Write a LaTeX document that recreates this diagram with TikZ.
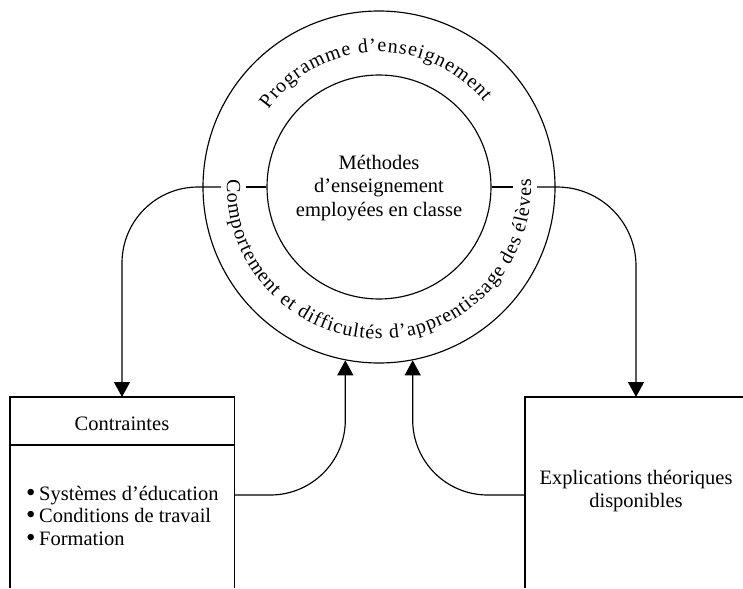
\documentclass[tikz,border=0pt]{standalone}
\usepackage{fontspec}
\setmainfont{Liberation Serif}
\usetikzlibrary{arrows.meta,decorations.text}
\newcommand{\bodyfont}{\fontsize{20.5}{23}\selectfont}
\newcommand{\ringfont}{\fontsize{20}{24}\selectfont}
\newcommand{\bul}{\makebox[13pt][l]{\raisebox{-1pt}{\fontsize{27}{23}\selectfont\textbullet}}}
\tikzset{
  ln/.style={line width=1.15pt, draw=black},
  conn/.style={ln, -{Triangle[width=16pt,length=15pt]}},
  ring/.style={circle, ln, inner sep=0pt},
  lbl/.style={font=\bodyfont, inner sep=0pt, align=center},
}
\begin{document}
\begin{tikzpicture}[x=1pt,y=1pt]
\useasboundingbox (0,-588) rectangle (743,0);
% circles
\node[ring, minimum size=352pt] (outer) at (379,-187) {};
\node[ring, minimum size=224pt] (inner) at (379,-187) {};
\node[lbl, font=\fontsize{20.5}{23.5}\selectfont] (meth) at (379,-188) {Méthodes\\d’enseignement\\employées en classe};
% curved texts
\path[decorate, decoration={text along path, text align=fit to path,
  text={|\ringfont|Programme d’enseignement}}]
  (outer.center) ++(145:135) arc[start angle=145, end angle=39, radius=135];
\path[decorate, decoration={text along path, text align=fit to path,
  text={|\ringfont|Comportement et difficultés d’apprentissage des élèves}}]
  (outer.center) ++(177:152) arc[start angle=177, end angle=363, radius=152];
% ticks on inner circle
\draw[ln] (inner.west) -- ++(-20,0);
\draw[ln] (inner.east) -- ++(21,0);
% boxes
\node[inner sep=0pt, minimum width=224pt, minimum height=191pt, anchor=north west] (cbox) at (10,-397) {};
\draw[ln] (cbox.south west) -- (cbox.north west) -- (cbox.north east) -- (cbox.south east);
\draw[ln] (cbox.west |- 0,-445) -- (cbox.east |- 0,-445);
\node[lbl] (ctitle) at (122,-424) {Contraintes};
\node[lbl, align=left, anchor=west, font=\fontsize{20.5}{22.5}\selectfont] (clist) at (26,-516)
  {\bul Systèmes d’éducation\\\bul Conditions de travail\\\bul Formation};
\node[inner sep=0pt, minimum width=218pt, minimum height=191pt, anchor=north west] (ebox) at (525,-397) {};
\draw[ln] (ebox.south west) -- (ebox.north west) -- (ebox.north east);
\node[lbl] (etext) at (636,-491) {Explications théoriques\\disponibles};
% connectors
\coordinate (lt) at (221,-187);
\coordinate (rt) at (537,-187);
\coordinate (ctop) at (122,-397);
\coordinate (etop) at (636,-397);
\coordinate (cout) at (234,-495);
\coordinate (ein) at (525,-495);
\draw[conn, rounded corners=76pt] (lt) -| (ctop);
\draw[conn, rounded corners=79pt] (rt) -| (etop);
\draw[conn, rounded corners=75pt] (cout) -| (outer.259.5);
\draw[conn, rounded corners=75pt] (ein) -| (outer.281.5);
\end{tikzpicture}
\end{document}
